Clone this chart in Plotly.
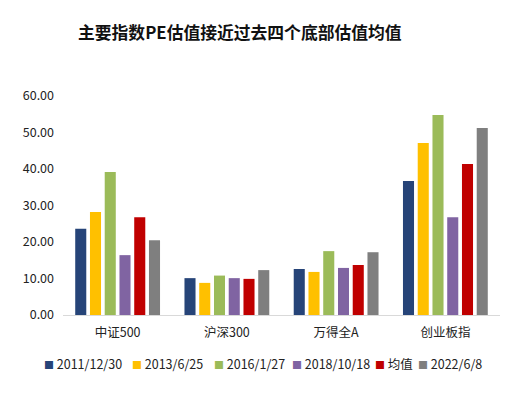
import plotly.graph_objects as go

categories = ["中证500", "沪深300", "万得全A", "创业板指"]
series_names = ["2011/12/30", "2013/6/25", "2016/1/27", "2018/10/18", "均值", "2022/6/8"]
v_2011 = [23.6, 10.1, 12.6, 36.7]
v_2013 = [28.2, 8.8, 11.8, 47.1]
v_2016 = [39.2, 10.8, 17.5, 54.8]
v_2018 = [16.4, 10.1, 12.9, 26.8]
v_mean = [26.8, 9.9, 13.7, 41.4]
v_2022 = [20.5, 12.3, 17.2, 51.2]
series_values = [v_2011, v_2013, v_2016, v_2018, v_mean, v_2022]
colors = ["#264478", "#FFC000", "#9BBB59", "#8064A2", "#C00000", "#7F7F7F"]
y_ticks = [0, 10, 20, 30, 40, 50, 60]

font = "Noto Sans CJK SC, Microsoft YaHei, sans-serif"
W, H = 527, 397
L, R, T, B = 63, 27, 96, 82

fig = go.Figure()
for name, vals, c in zip(series_names, series_values, colors):
    fig.add_trace(go.Bar(x=categories, y=vals, name=name, marker=dict(color=c, line=dict(width=0))))

# custom one-line legend (text annotations)
legend_px = [42, 130, 212, 290, 373, 416]
annotations = []
for px, name, c in zip(legend_px, series_names, colors):
    annotations.append(dict(
        xref="paper", yref="paper",
        x=(px - L) / (W - L - R), y=-(363 - (H - B)) / (H - T - B),
        xanchor="left", yanchor="middle", showarrow=False,
        text=f"<span style='color:{c};font-size:10px'>■</span> {name}",
        font=dict(size=12.5, color="#222", family=font),
    ))

fig.update_layout(
    width=W, height=H,
    paper_bgcolor="white", plot_bgcolor="white",
    margin=dict(l=L, r=R, t=T, b=B),
    barmode="group", bargap=0.19, bargroupgap=0.25,
    font=dict(family=font, size=12, color="#222"),
    title=dict(text="<b>主要指数PE估值接近过去四个底部估值均值</b>", x=78 / W, xanchor="left",
               y=1 - 33 / H, yanchor="middle", font=dict(size=16.8, color="#111", family=font)),
    showlegend=False,
    annotations=annotations,
)
fig.update_xaxes(showline=True, linecolor="#D9D9D9", linewidth=1, ticks="", ticklabelstandoff=6,
                 tickfont=dict(size=12.5, color="#222"))
fig.update_yaxes(range=[0, 60], tickvals=y_ticks, tickformat=".2f", showgrid=False, zeroline=False,
                 showline=False, ticks="", ticklabelstandoff=8, tickfont=dict(size=12.5, color="#222"))
fig.write_html("out.html", config={"displayModeBar": False},
               post_script="document.body.style.margin='0';document.body.style.overflow='hidden';")
